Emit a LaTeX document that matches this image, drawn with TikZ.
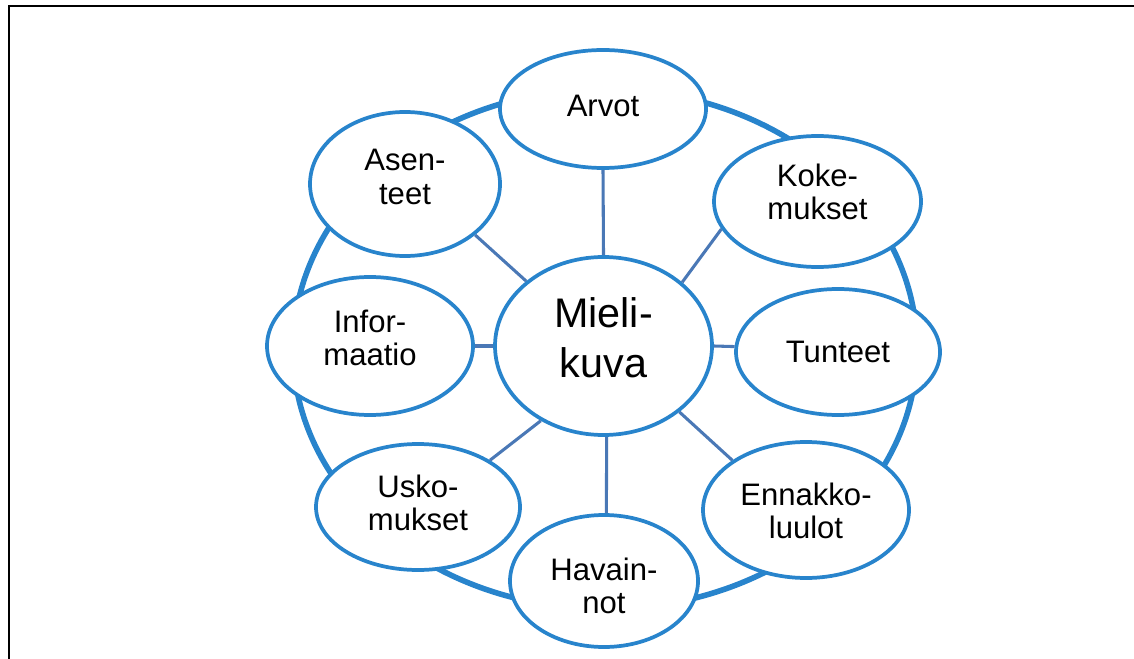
\documentclass[tikz,border=0pt]{standalone}
\usepackage{fontspec}
\setmainfont{Liberation Sans}
\usetikzlibrary{shapes.geometric}
\definecolor{ringblue}{RGB}{40,132,204}
\definecolor{linkblue}{RGB}{74,120,182}
% raise a text box by #1 inside its node without changing the node size
\newcommand\lift[2]{\raisebox{0pt}[\dimexpr\height-#1\relax][\dimexpr\depth+#1\relax]{#2}}
\newcommand\twolines[2]{\begin{tabular}{@{}c@{}}#1\\#2\end{tabular}}
\begin{document}
\begin{tikzpicture}[x=0.75pt,y=-0.75pt,
  bubble/.style={ellipse, draw=ringblue, line width=2.8pt, fill=white,
    inner sep=0pt, font=\fontsize{23.3}{25}\selectfont},
  hub/.style={bubble, font=\fontsize{31}{37.5}\selectfont},
  link/.style={draw=linkblue, line width=2.3pt},
  ring/.style={draw=ringblue, line width=4.2pt},
  frameline/.style={draw=black, line width=2pt}]
\useasboundingbox (0,0) rectangle (1134,659);

% page frame (top and left edges)
\draw[frameline] (9,659) -- (9,6) -- (1134,6);

% outer ring
\draw[ring] (605,349) ellipse [x radius=312, y radius=260];

% centre and satellites
\node[hub, minimum width=162.75pt, minimum height=133.5pt] (c) at (603.5,346)
  {\lift{3pt}{\twolines{Mieli-}{kuva}}};
\node[bubble, minimum width=154.5pt, minimum height=88.5pt] (arvot) at (603,109)
  {\lift{2.25pt}{Arvot}};
\node[bubble, minimum width=155.25pt, minimum height=98.25pt] (koke) at (817.5,201.5)
  {\lift{3.75pt}{\twolines{Koke-}{mukset}}};
\node[bubble, minimum width=153pt, minimum height=94.5pt] (tunteet) at (838,352)
  {Tunteet};
\node[bubble, minimum width=154.5pt, minimum height=102pt] (ennakko) at (806,510)
  {\lift{-3.75pt}{\twolines{Ennakko-}{luulot}}};
\node[bubble, minimum width=141pt, minimum height=99pt] (havainnot) at (604,581)
  {\lift{-6.75pt}{\twolines{Havain-}{not}}};
\node[bubble, minimum width=153pt, minimum height=94.5pt] (usko) at (418,507)
  {\twolines{Usko-}{mukset}};
\node[bubble, minimum width=154.5pt, minimum height=103.5pt] (info) at (370,346)
  {\lift{3pt}{\twolines{Infor-}{maatio}}};
\node[bubble, minimum width=142.5pt, minimum height=108pt] (ase) at (405,184)
  {\lift{2.25pt}{\twolines{Asen-}{teet}}};

% spokes
\draw[link] (c.north) -- (arvot.south);
\draw[link] (c.39) -- (koke.196);
\draw[link] (c.east) -- (tunteet.177);
\draw[link] (c.-41) -- (ennakko.146);
\draw[link] (c.-88) -- (havainnot.88);
\draw[link] (c.230) -- (usko.33);
\draw[link] (info.east) -- (c.west);
\draw[link] (ase.-36) -- (c.140);
\end{tikzpicture}
\end{document}
